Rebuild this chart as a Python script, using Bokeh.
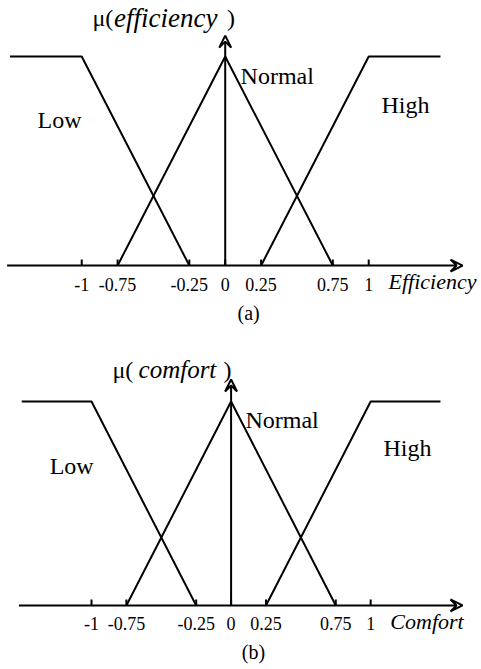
from bokeh.plotting import figure
from bokeh.layouts import column
from bokeh.models import Range1d, Arrow, VeeHead, Label
from bokeh.core.properties import value
from bokeh.embed import file_html
from bokeh.resources import INLINE

# ---- data ----
low_x = [-1.5, -1.0, -0.25]
low_y = [1.0, 1.0, 0.0]
normal_x = [-0.75, 0.0, 0.75]
normal_y = [0.0, 1.0, 0.0]
high_x = [0.25, 1.0, 1.5]
high_y = [0.0, 1.0, 1.0]
tick_vals = [-1.0, -0.75, -0.25, 0.0, 0.25, 0.75, 1.0]
tick_labels = ["-1", "-0.75", "-0.25", "0", "0.25", "0.75", "1"]
set_names = ["Low", "Normal", "High"]

SERIF = "Liberation Serif"


def panel(cfg):
    p = figure(width=cfg["w"], height=cfg["h"], output_backend="svg",
               toolbar_location=None, x_axis_type=None, y_axis_type=None,
               x_range=Range1d(*cfg["xr"]), y_range=Range1d(*cfg["yr"]),
               min_border=0, min_border_left=0, min_border_right=0,
               min_border_top=0, min_border_bottom=0)
    p.outline_line_color = None
    p.background_fill_color = "white"
    p.border_fill_color = "white"

    sy = cfg["sy"]  # pixels per data unit (y)
    # tick marks (pointing up) and tick labels
    p.segment(x0=tick_vals, y0=[0] * len(tick_vals), x1=tick_vals,
              y1=[6.0 / sy] * len(tick_vals), line_color="black", line_width=2)
    p.text(x=tick_vals, y=[cfg["ticky"]] * len(tick_vals), text=tick_labels,
           text_font=value(SERIF), text_font_size="18px", text_color="black",
           text_align="center", text_baseline="middle")

    for xs, ys in ((low_x, low_y), (normal_x, normal_y), (high_x, high_y)):
        p.line(xs, ys, line_color="black", line_width=2)

    # axes with arrow heads
    p.add_layout(Arrow(end=VeeHead(size=12, line_color="black", line_width=2, fill_color=None),
                       x_start=cfg["axstart"], y_start=0, x_end=cfg["xtip"], y_end=0,
                       line_color="black", line_width=2))
    p.add_layout(Arrow(end=VeeHead(size=12, line_color="black", line_width=2, fill_color=None),
                       x_start=0, y_start=0, x_end=0, y_end=cfg["ytip"],
                       line_color="black", line_width=2))

    def lab(text, x, y, size, style="normal", align="left", base="alphabetic"):
        p.add_layout(Label(x=x, y=y, text=text, text_font=SERIF, text_font_size=size,
                           text_font_style=style, text_align=align,
                           text_baseline=base, text_color="black"))

    for name in set_names:
        x, y = cfg["pos"][name]
        lab(name, x, y, "24px")
    mx, ix, cx, my = cfg["mu"]
    lab("\u03bc(", mx, my, "24px", base="middle")
    lab(cfg["var"], ix, my, cfg["varsize"], style="italic", base="middle")
    lab(")", cx, my, "24px", base="middle")
    lab(cfg["axis"], cfg["axpos"][0], cfg["axpos"][1], "22px", style="italic", base="middle")
    lab(cfg["cap"], cfg["cappos"][0], cfg["cappos"][1], "20px", align="center", base="middle")
    return p


cfg_a = dict(w=481, h=338, xr=(-1.566, 1.786), yr=(-0.349, 1.268), sy=209.0,
             axstart=-1.52, xtip=1.654, ytip=1.10, ticky=-0.09,
             pos={"Low": (-1.308, 0.694), "Normal": (0.107, 0.909), "High": (1.089, 0.766)},
             mu=(-0.925, -0.775, 0.012, 1.186), var="efficiency", varsize="27px",
             axis="Efficiency", axpos=(1.138, -0.076), cap="(a)", cappos=(0.163, -0.229))
cfg_b = dict(w=481, h=330, xr=(-1.652, 1.794), yr=(-0.309, 1.309), sy=204.0,
             axstart=-1.52, xtip=1.658, ytip=1.108, ticky=-0.09,
             pos={"Low": (-1.30, 0.686), "Normal": (0.103, 0.907), "High": (1.092, 0.77)},
             mu=(-0.850, -0.663, -0.055, 1.157), var="comfort", varsize="25px",
             axis="Comfort", axpos=(1.141, -0.080), cap="(b)", cappos=(0.160, -0.230))

layout = column(panel(cfg_a), panel(cfg_b))
open("out.html", "w").write(file_html(layout, INLINE))
